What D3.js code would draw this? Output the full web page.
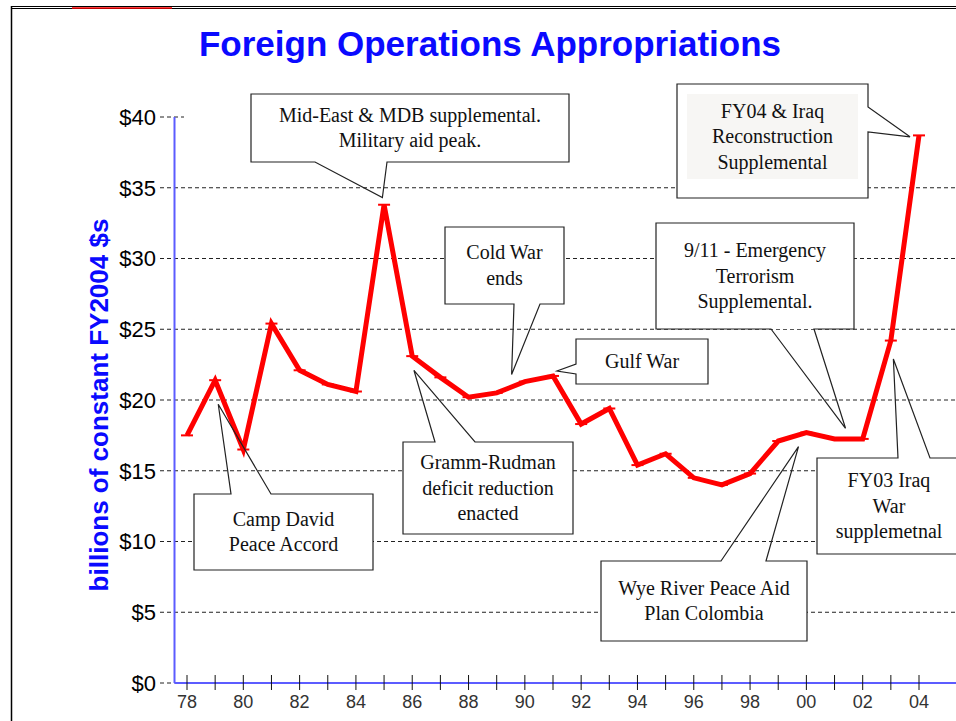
<!DOCTYPE html>
<html>
<head>
<meta charset="utf-8">
<script src="https://cdn.jsdelivr.net/npm/d3@7"></script>
<style>
  body { margin: 0; background: #fff; }
  svg { display: block; }
</style>
</head>
<body>
<div id="chart"></div>
<script>
// Foreign Operations appropriations, billions of constant FY2004 $
const years = [1978, 1979, 1980, 1981, 1982, 1983, 1984, 1985, 1986, 1987, 1988, 1989, 1990,
  1991, 1992, 1993, 1994, 1995, 1996, 1997, 1998, 1999, 2000, 2001, 2002, 2003, 2004];
const values = [17.5, 21.4, 16.5, 25.4, 22.1, 21.1, 20.6, 33.8, 23.1, 21.6, 20.2, 20.5, 21.3,
  21.7, 18.3, 19.4, 15.4, 16.2, 14.5, 14.0, 14.8, 17.1, 17.7, 17.25, 17.25, 24.2, 38.7];
const yTicks = [0, 5, 10, 15, 20, 25, 30, 35, 40];
const xTickLabels = ["78", "80", "82", "84", "86", "88", "90", "92", "94", "96", "98", "00", "02", "04"];

const titleText = "Foreign Operations Appropriations";
const yTitle = "billions of constant FY2004 $s";

// callouts: text lines, box (pixels), wedge side, and the point it aims at (data space)
const notes = [
  { lines: ["Camp David", "Peace Accord"], box: [194, 494, 373, 570], side: "top", wedge: [231, 271], tip: [1979.11, 19.7] },
  { lines: ["Mid-East & MDB supplemental.", "Military aid peak."], box: [251, 94, 569, 162], side: "bottom", wedge: [315, 387], tip: [1984.94, 34.3] },
  { lines: ["Gramm-Rudman", "deficit reduction", "enacted"], box: [403, 442, 573, 534], side: "top", wedge: [435, 475], tip: [1986.06, 22.1] },
  { lines: ["Cold War", "ends"], box: [445, 227, 564, 304], side: "bottom", wedge: [514, 540], tip: [1989.53, 21.8] },
  { lines: ["Gulf War"], box: [576, 339, 708, 384], side: "left", wedge: [364, 374], tip: [1991.14, 22.05] },
  { lines: ["Wye River Peace Aid", "Plan Colombia"], box: [601, 561, 807, 641], side: "top", wedge: [721, 766], tip: [1999.72, 16.7] },
  { lines: ["9/11 - Emergency", "Terrorism", "Supplemental."], box: [656, 223, 854, 329], side: "bottom", wedge: [771, 814], tip: [2001.39, 18.0] },
  { lines: ["FY03 Iraq", "War", "supplemetnal"], box: [817, 458, 975, 554], side: "top", wedge: [898, 930], tip: [2003.09, 22.9], cx: 889 },
  { lines: ["FY04 & Iraq", "Reconstruction", "Supplemental"], box: [677, 84, 868, 198], side: "right", wedge: [107, 132], tip: [2003.68, 38.6], inner: true }
];

const W = 956, H = 721;
const svg = d3.select("#chart").append("svg").attr("width", W).attr("height", H);

// frame of the slide
svg.append("line").attr("x1", 11).attr("x2", W).attr("y1", 6.5).attr("y2", 6.5).attr("stroke", "#000");
svg.append("line").attr("x1", 11).attr("x2", W).attr("y1", 8.5).attr("y2", 8.5).attr("stroke", "#000");
svg.append("line").attr("x1", 72).attr("x2", 172).attr("y1", 8).attr("y2", 8).attr("stroke", "#ff0000").attr("stroke-width", 1.5);
svg.append("line").attr("x1", 11.5).attr("x2", 11.5).attr("y1", 6).attr("y2", H).attr("stroke", "#000").attr("stroke-width", 1.5);

const x = d3.scaleLinear().domain([1978, 2004]).range([187, 919]);
const y = d3.scaleLinear().domain([0, 40]).range([683, 117]);
const axisX = 174.5;

svg.append("text")
  .attr("x", 490).attr("y", 56)
  .attr("text-anchor", "middle")
  .style("font-family", "Liberation Sans, Arial, sans-serif")
  .style("font-weight", "bold")
  .style("font-size", "35px")
  .style("fill", "#0a0aff")
  .text(titleText);

svg.append("text")
  .attr("transform", "translate(108,405) rotate(-90)")
  .attr("text-anchor", "middle")
  .style("font-family", "Liberation Sans, Arial, sans-serif")
  .style("font-weight", "bold")
  .style("font-size", "26px")
  .style("fill", "#0a0aff")
  .text(yTitle);

// dashed gridlines
svg.append("g").selectAll("line")
  .data(yTicks)
  .join("line")
  .attr("x1", 160)
  .attr("x2", (d) => (d === 0 ? axisX : d === 40 ? 184 : W))
  .attr("y1", (d) => y(d)).attr("y2", (d) => y(d))
  .attr("stroke", "#222")
  .attr("stroke-dasharray", "4,3");

svg.append("g").selectAll("text")
  .data(yTicks)
  .join("text")
  .attr("x", 156).attr("y", (d) => y(d))
  .attr("dy", "0.36em")
  .attr("text-anchor", "end")
  .style("font-family", "Liberation Sans, Arial, sans-serif")
  .style("font-size", "22px")
  .style("fill", "#000")
  .text((d) => "$" + d);

// callout boxes: white fill first so gridlines are hidden behind them
const boxes = svg.append("g");
boxes.selectAll("rect")
  .data(notes)
  .join("rect")
  .attr("x", (d) => d.box[0]).attr("y", (d) => d.box[1])
  .attr("width", (d) => d.box[2] - d.box[0]).attr("height", (d) => d.box[3] - d.box[1])
  .attr("fill", "#fff");
boxes.selectAll("rect.inner")
  .data(notes.filter((d) => d.inner))
  .join("rect")
  .attr("class", "inner")
  .attr("x", (d) => d.box[0] + 10).attr("y", (d) => d.box[1] + 10)
  .attr("width", (d) => d.box[2] - d.box[0] - 20).attr("height", (d) => d.box[3] - d.box[1] - 29)
  .attr("fill", "#f7f6f4");

// axes
svg.append("line").attr("x1", axisX).attr("x2", axisX).attr("y1", y(40)).attr("y2", y(0))
  .attr("stroke", "#5c5cff").attr("stroke-width", 2);
svg.append("line").attr("x1", axisX).attr("x2", W).attr("y1", y(0)).attr("y2", y(0))
  .attr("stroke", "#5c5cff").attr("stroke-width", 2);

svg.append("g").selectAll("line")
  .data(years)
  .join("line")
  .attr("x1", (d) => x(d)).attr("x2", (d) => x(d))
  .attr("y1", y(0) - 8).attr("y2", y(0) + 7)
  .attr("stroke", "#111");

svg.append("g").selectAll("text")
  .data(xTickLabels)
  .join("text")
  .attr("x", (d, i) => x(1978 + i * 2))
  .attr("y", 702)
  .attr("dy", "0.36em")
  .attr("text-anchor", "middle")
  .style("font-family", "Liberation Sans, Arial, sans-serif")
  .style("font-size", "18px")
  .style("fill", "#333")
  .text((d) => d);

// data line
const pts = years.map((yr, i) => [yr, values[i]]);
svg.append("path")
  .datum(pts)
  .attr("fill", "none")
  .attr("stroke", "#ff0000")
  .attr("stroke-width", 5)
  .attr("stroke-linejoin", "miter")
  .attr("d", d3.line().x((d) => x(d[0])).y((d) => y(d[1])));

svg.append("g").selectAll("line")
  .data(pts)
  .join("line")
  .attr("x1", (d) => x(d[0]) - 6).attr("x2", (d) => x(d[0]) + 6)
  .attr("y1", (d) => y(d[1])).attr("y2", (d) => y(d[1]))
  .attr("stroke", "#ff0000")
  .attr("stroke-width", 2);

// callout outlines with wedge pointers
function calloutPath(d) {
  const [x0, y0, x1, y1] = d.box;
  const [a, b] = d.wedge;
  const tx = x(d.tip[0]), ty = y(d.tip[1]);
  let p;
  if (d.side === "top") p = [[x0, y0], [a, y0], [tx, ty], [b, y0], [x1, y0], [x1, y1], [x0, y1]];
  else if (d.side === "bottom") p = [[x0, y0], [x1, y0], [x1, y1], [b, y1], [tx, ty], [a, y1], [x0, y1]];
  else if (d.side === "left") p = [[x0, y0], [x1, y0], [x1, y1], [x0, y1], [x0, b], [tx, ty], [x0, a]];
  else p = [[x0, y0], [x1, y0], [x1, a], [tx, ty], [x1, b], [x1, y1], [x0, y1]];
  return "M" + p.map((q) => q.join(",")).join("L") + "Z";
}

svg.append("g").selectAll("path")
  .data(notes)
  .join("path")
  .attr("d", calloutPath)
  .attr("fill", "none")
  .attr("stroke", "#222")
  .attr("stroke-width", 1.2);

const label = svg.append("g").selectAll("text")
  .data(notes)
  .join("text")
  .attr("text-anchor", "middle")
  .style("font-family", "Liberation Serif, Times New Roman, serif")
  .style("font-size", "20px")
  .style("fill", "#111");

label.each(function (d) {
  const cx = d.cx !== undefined ? d.cx : (d.box[0] + d.box[2]) / 2;
  const n = d.lines.length;
  const cy = d.inner ? (d.box[1] + d.box[3] - 19) / 2 + 5 : (d.box[1] + d.box[3]) / 2;
  d3.select(this).selectAll("tspan")
    .data(d.lines)
    .join("tspan")
    .attr("x", cx)
    .attr("y", (t, i) => cy + (i - (n - 1) / 2) * 25.5)
    .attr("dy", "0.33em")
    .text((t) => t);
});
</script>
</body>
</html>
